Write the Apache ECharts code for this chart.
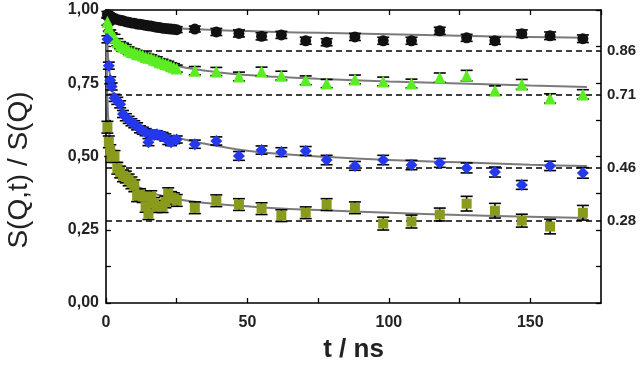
<!DOCTYPE html>
<html><head><meta charset="utf-8">
<script src="https://cdn.jsdelivr.net/npm/echarts@6/dist/echarts.min.js"></script>
<style>html,body{margin:0;padding:0;background:#fff}#c{width:640px;height:368px}</style>
</head><body><div id="c"></div>
<script>
// time values (ns), shared by all four series
const t = [0.5,1,1.5,2,3,4,5,6,7,8,9,10,11,12,13,14,15,16,17,18,19,20,21,22,23,24,25,
  31.4,39,47,55,62,70.6,78,88,98,108,118,127.5,137.5,147,157,168.6];
const blackVals = [0.985,0.98,0.976,0.975,0.97,0.968,0.965,0.963,0.96,0.958,0.956,0.955,0.952,0.951,0.95,0.948,0.946,0.945,0.943,0.941,0.94,0.938,0.937,0.936,0.935,0.934,0.933,
  0.935,0.925,0.92,0.91,0.915,0.895,0.89,0.908,0.895,0.895,0.929,0.905,0.895,0.919,0.912,0.902];
const blackErr = [0.01,0.01,0.01,0.01,0.01,0.01,0.01,0.01,0.01,0.01,0.01,0.01,0.01,0.01,0.01,0.01,0.01,0.01,0.01,0.01,0.01,0.01,0.01,0.01,0.01,0.01,0.01,
  0.01,0.012,0.012,0.012,0.012,0.012,0.012,0.012,0.012,0.012,0.012,0.012,0.012,0.013,0.013,0.013];
const greenVals = [0.96,0.94,0.92,0.91,0.905,0.89,0.88,0.875,0.87,0.862,0.857,0.855,0.85,0.848,0.845,0.84,0.837,0.835,0.83,0.828,0.822,0.82,0.816,0.813,0.808,0.805,0.8,
  0.793,0.79,0.773,0.79,0.776,0.76,0.749,0.763,0.756,0.749,0.769,0.776,0.725,0.746,0.698,0.712];
const greenErr = [0.012,0.012,0.012,0.012,0.012,0.012,0.012,0.012,0.012,0.012,0.012,0.012,0.012,0.012,0.012,0.012,0.012,0.012,0.012,0.012,0.012,0.012,0.012,0.012,0.012,0.012,0.012,
  0.014,0.014,0.015,0.015,0.015,0.015,0.014,0.015,0.015,0.015,0.016,0.018,0.016,0.017,0.016,0.016];
const blueVals = [0.9,0.81,0.76,0.739,0.7,0.69,0.678,0.645,0.634,0.625,0.617,0.61,0.603,0.593,0.588,0.583,0.549,0.578,0.573,0.576,0.572,0.57,0.565,0.553,0.549,0.556,0.558,
  0.542,0.553,0.502,0.522,0.515,0.519,0.488,0.468,0.488,0.471,0.478,0.461,0.447,0.403,0.468,0.444];
const blueErr = [0.012,0.012,0.012,0.012,0.012,0.012,0.012,0.012,0.012,0.012,0.012,0.012,0.012,0.012,0.012,0.012,0.012,0.012,0.012,0.012,0.012,0.012,0.012,0.012,0.012,0.012,0.012,
  0.014,0.014,0.015,0.014,0.015,0.015,0.016,0.015,0.016,0.016,0.015,0.017,0.017,0.015,0.016,0.018];
const oliveVals = [0.6,0.55,0.52,0.5,0.5,0.46,0.447,0.434,0.43,0.42,0.41,0.4,0.366,0.37,0.363,0.33,0.305,0.363,0.34,0.329,0.33,0.329,0.345,0.373,0.36,0.356,0.35,
  0.325,0.349,0.336,0.322,0.298,0.308,0.336,0.325,0.271,0.278,0.302,0.339,0.315,0.281,0.261,0.308];
const oliveErr = [0.02,0.02,0.02,0.02,0.02,0.02,0.02,0.02,0.02,0.02,0.02,0.02,0.02,0.02,0.02,0.02,0.02,0.02,0.02,0.02,0.02,0.02,0.02,0.02,0.02,0.02,0.02,
  0.02,0.02,0.02,0.02,0.02,0.02,0.02,0.02,0.022,0.022,0.022,0.025,0.025,0.022,0.025,0.025];
// fitted curves
const fitT = [0,0.5,1,2,3,5,7,10,15,20,25,30,40,50,60,75,100,125,150,170];
const blackFit = [1.0,0.99,0.985,0.978,0.973,0.966,0.962,0.956,0.948,0.942,0.938,0.935,0.931,0.928,0.925,0.922,0.917,0.912,0.908,0.905];
const greenFit = [1.0,0.96,0.94,0.91,0.895,0.878,0.866,0.853,0.835,0.822,0.81,0.8,0.787,0.778,0.772,0.765,0.756,0.749,0.742,0.737];
const blueFit = [1.0,0.88,0.81,0.74,0.705,0.667,0.643,0.62,0.595,0.577,0.565,0.553,0.535,0.52,0.51,0.5,0.488,0.48,0.472,0.468];
const oliveFit = [1.0,0.7,0.6,0.52,0.49,0.455,0.43,0.405,0.38,0.365,0.355,0.347,0.337,0.33,0.323,0.317,0.308,0.3,0.294,0.29];
// plateau levels (dashed lines) and their labels
const plateaus = [0.86,0.71,0.46,0.28];
const plateauLabels = ['0.86','0.71','0.46','0.28'];
const xTicks = [0,50,100,150];

const colors = ['#111111','#5cec22','#2438ee','#8a9a1c'];
const symbols = ['circle','triangle','diamond','rect'];
const sizes = [11,12,12,10];
const vals = [blackVals,greenVals,blueVals,oliveVals];
const errs = [blackErr,greenErr,blueErr,oliveErr];
const fits = [blackFit,greenFit,blueFit,oliveFit];

const font = 'Liberation Sans, Arial, sans-serif';
const series = [];
fits.forEach((f,k)=>{
  series.push({type:'line', data:fitT.map((x,i)=>[x,f[i]]), smooth:true, showSymbol:false, symbol:'none',
    lineStyle:{color:'#7a7a7a', width:2}, z:3, silent:true,
    markLine:{silent:true, symbol:'none', animation:false,
      lineStyle:{color:'#000', type:[6,4], width:1.6},
      label:{show:true, position:'end', distance:6, formatter:plateauLabels[k], fontFamily:font, fontWeight:'bold', fontSize:15, color:'#222'},
      data:[{yAxis:plateaus[k]}]}});
});
vals.forEach((v,k)=>{
  series.push({type:'custom', z:4, silent:true,
    data:t.map((x,i)=>[x,v[i],errs[k][i]]),
    renderItem:(params,api)=>{
      const x=api.value(0), y=api.value(1), e=api.value(2);
      const hi=api.coord([x,y+e]), lo=api.coord([x,y-e]);
      const hw=6, st={stroke:'#000', lineWidth:1.6};
      return {type:'group', children:[
        {type:'line', shape:{x1:hi[0],y1:hi[1],x2:lo[0],y2:lo[1]}, style:st},
        {type:'line', shape:{x1:hi[0]-hw,y1:hi[1],x2:hi[0]+hw,y2:hi[1]}, style:st},
        {type:'line', shape:{x1:lo[0]-hw,y1:lo[1],x2:lo[0]+hw,y2:lo[1]}, style:st}
      ]};
    }});
  series.push({type:'scatter', z:5, data:t.map((x,i)=>[x,v[i]]), symbol:symbols[k], symbolSize:sizes[k],
    itemStyle:{color:colors[k], opacity:1}});
});

const axisCommon = {min:0, axisLine:{show:true, onZero:false, lineStyle:{color:'#000', width:1.6}}, splitLine:{show:false},
  axisTick:{show:true, inside:true, length:5, lineStyle:{color:'#000', width:1.3}}};

const chart = echarts.init(document.getElementById('c'), null, {renderer:'canvas'});
chart.setOption({
  animation:false,
  grid:{left:106, right:39, top:10, bottom:63},
  xAxis:[
    Object.assign({}, axisCommon, {type:'value', position:'bottom', max:175, interval:25,
      axisLabel:{margin:12, fontFamily:font, fontWeight:'bold', fontSize:16, color:'#222', showMaxLabel:false,
        formatter:v=>xTicks.includes(v)?String(v):''},
      name:'t / ns', nameLocation:'middle', nameGap:34,
      nameTextStyle:{fontFamily:font, fontWeight:'bold', fontSize:26, color:'#222'}}),
    Object.assign({}, axisCommon, {type:'value', position:'top', max:175, interval:25, axisLabel:{show:false}})
  ],
  yAxis:[
    Object.assign({}, axisCommon, {type:'value', position:'left', max:1, interval:0.125,
      axisLabel:{margin:7, fontFamily:font, fontWeight:'bold', fontSize:16, color:'#222',
        formatter:v=>(Math.abs(v*4-Math.round(v*4))<1e-6)?v.toFixed(2).replace('.',','):''}}),
    Object.assign({}, axisCommon, {type:'value', position:'right', max:1, interval:0.125, axisLabel:{show:false}})
  ],
  graphic:[{type:'text', x:19, y:170, rotation:Math.PI/2,
    style:{text:'S(Q,t) / S(Q)', fontFamily:font, fontSize:28, fill:'#222', textAlign:'center', textVerticalAlign:'middle'}}],
  series:series
});
</script></body></html>
